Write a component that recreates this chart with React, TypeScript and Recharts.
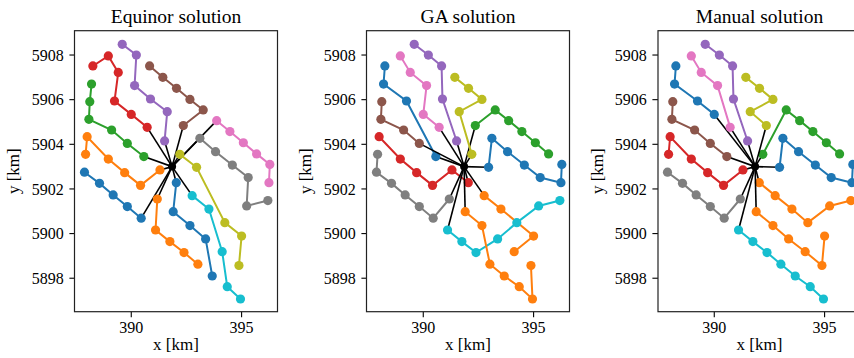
import React from 'react';
import { ScatterChart, Scatter, XAxis, YAxis } from 'recharts';

// ---- data ----
const turbineIds = [
  'b1','b2','b3','b4','b5',
  'o1','o2','o3','o4','o5','o6',
  'g1','g2','g3','g4','g5','g6',
  'r1','r2','r3','r4','r5','r6',
  'p1','p2','p3','p4','p5','p6',
  'n1','n2','n3','n4','n5','n6',
  'k1','k2','k3','k4','k5','k6',
  'y1','y2','y3','y4','y5','y6',
  'l1','l2','l3','l4','l5',
  'c1','c2','c3','c4','c5',
  'm1','m2','m3','m4','m5',
  'q1','q2','q3','q4','q5',
];
const turbineX = [
  387.88, 388.56, 389.18, 389.82, 390.45,
  387.93, 388.0, 388.96, 389.7, 390.42, 391.3,
  388.2, 388.12, 388.08, 389.11, 389.82, 390.57,
  388.26, 388.96, 389.41, 389.24, 390.0, 390.72,
  389.59, 390.23, 390.15, 390.87, 391.63, 391.51,
  390.83, 391.43, 392.05, 392.66, 393.26, 392.36,
  393.87, 394.47, 395.08, 395.68, 396.28, 396.24,
  393.11, 393.82, 394.58, 395.3, 395.23, 396.19,
  392.2, 392.96, 394.24, 395.0, 394.88,
  392.76, 393.52, 394.12, 394.35, 394.95,
  392.04, 391.9, 392.66, 393.37, 393.67,
  391.18, 391.1, 391.75, 392.39, 393.02,
];
const turbineY = [
  5902.75, 5902.25, 5901.73, 5901.21, 5900.69,
  5903.55, 5904.34, 5903.34, 5902.73, 5902.16, 5902.85,
  5906.7, 5905.91, 5905.12, 5904.64, 5904.04, 5903.45,
  5907.51, 5907.96, 5907.22, 5905.94, 5905.34, 5904.76,
  5908.48, 5908.0, 5906.63, 5906.03, 5905.46, 5904.15,
  5907.51, 5907.0, 5906.51, 5906.01, 5905.54, 5904.84,
  5905.06, 5904.57, 5904.07, 5903.57, 5903.1, 5902.28,
  5904.27, 5903.67, 5903.07, 5902.51, 5901.24, 5901.48,
  5903.55, 5902.97, 5900.49, 5899.89, 5898.57,
  5901.7, 5901.1, 5899.19, 5897.62, 5897.07,
  5902.28, 5900.98, 5900.36, 5899.76, 5898.1,
  5901.55, 5900.16, 5899.64, 5899.15, 5898.63,
];
const substationX = 391.85;
const substationY = 5903.0;

// strings listed from the substation outward
const equinorStrings = [
  ['b5','b4','b3','b2','b1'],
  ['o6','o5','o4','o3','o2','o1'],
  ['g6','g5','g4','g3','g2','g1'],
  ['r6','r5','r4','r3','r2','r1'],
  ['p6','p5','p4','p3','p2','p1'],
  ['n6','n5','n4','n3','n2','n1'],
  ['k1','k2','k3','k4','k5','k6'],
  ['y1','y2','y3','y4','y5','y6'],
  ['l1','l2','l3','l4','l5'],
  ['c1','c2','c3','c4','c5'],
  ['m1','m2','m3','m4','m5'],
  ['q1','q2','q3','q4','q5'],
];
const gaStrings = [
  ['g6','r4','g1','r1'],
  ['c1','c2','l4','c3'],
  ['n6','n5','k1','k2','k3','k4'],
  ['m1','o6','o5','o4','o3','o2'],
  ['p6','p4','n1','p2','p1'],
  ['g5','g4','g3','g2'],
  ['r6','r5','p3','r3','r2'],
  ['q1','b5','b4','b3','b2','b1','o1'],
  ['l1','p5','n4','n3','n2'],
  ['q2','q3','q4','m4','l3','y5','y6'],
  ['l2','y1','y2','y3','y4','k6','k5'],
  ['m2','m3','q5','m5','c4','c5','l5'],
];
const manualStrings = [
  ['r5','r4','g1','r1'],
  ['m1','c1','c2','l3','y5','y6'],
  ['l1','n5','k1','k2','k3','k4'],
  ['o6','o5','o4','o3','o2','o1'],
  ['p6','p4','n1','p2','p1'],
  ['g6','g5','g4','g3','g2'],
  ['r6','p3','r3','r2'],
  ['q1','b5','b4','b3','b2','b1'],
  ['n6','p5','n4','n3','n2'],
  ['q2','q3','q4','q5','m5','c4','c5'],
  ['l2','y1','y2','y3','y4','k6','k5'],
  ['m2','m3','m4','c3','l5','l4'],
];

const panelTitles = ['Equinor solution', 'GA solution', 'Manual solution'];
const xTicks = [390, 395];
const yTicks = [5898, 5900, 5902, 5904, 5906, 5908];
const xDomain = [387.45, 396.65];
const yDomain = [5896.5, 5909.09];

// ---- styles / layout ----
const COLORS = ['#1f77b4','#ff7f0e','#2ca02c','#d62728','#9467bd','#8c564b','#e377c2','#7f7f7f','#bcbd22','#17becf'];
const FONT = "'Liberation Serif', 'DejaVu Serif', serif";
const PLOT_W = 203;
const PLOT_H = 281;
const PLOT_TOP = 30.7;
const Y_AXIS_W = 70;
const PLOT_LEFTS = [74.5, 366.5, 658];
const H = 358;

const idIndex: Record<string, number> = {};
turbineIds.forEach((id, i) => { idIndex[id] = i; });
const pt = (id: string) => ({ x: turbineX[idIndex[id]], y: turbineY[idIndex[id]] });
const sub = { x: substationX, y: substationY };

function Panel({ strings, left }: { strings: string[][]; left: number }) {
  const children: React.ReactNode[] = [];
  strings.forEach((s, i) => {
    const color = COLORS[i % 10];
    children.push(
      <Scatter
        key={'k' + i}
        data={[sub, pt(s[0])]}
        line={{ stroke: '#000', strokeWidth: 1.6 }}
        shape={() => <g />}
        isAnimationActive={false}
      />
    );
    children.push(
      <Scatter
        key={'s' + i}
        data={s.map(pt)}
        line={{ stroke: color, strokeWidth: 2 }}
        shape={(p: any) => <circle cx={p.cx} cy={p.cy} r={4.6} fill={color} />}
        isAnimationActive={false}
      />
    );
  });
  children.push(
    <Scatter
      key="sub"
      data={[sub]}
      shape={(p: any) => <circle cx={p.cx} cy={p.cy} r={4} fill="#000" />}
      isAnimationActive={false}
    />
  );
  return (
    <div style={{ position: 'absolute', left: left - Y_AXIS_W, top: 0 }}>
      <ScatterChart
        width={Y_AXIS_W + PLOT_W + 2}
        height={H}
        margin={{ top: PLOT_TOP, right: 2, left: 0, bottom: 0 }}
      >
        <XAxis
          type="number"
          dataKey="x"
          domain={xDomain}
          allowDataOverflow
          ticks={xTicks}
          height={H - PLOT_TOP - PLOT_H}
          axisLine={false}
          tickLine={{ stroke: '#000', strokeWidth: 1.1 }}
          tickSize={5.6}
          tickMargin={4.5}
          tick={{ fontFamily: FONT, fontSize: 16, fill: '#000' }}
        />
        <YAxis
          type="number"
          dataKey="y"
          domain={yDomain}
          allowDataOverflow
          ticks={yTicks}
          width={Y_AXIS_W}
          axisLine={false}
          tickLine={{ stroke: '#000', strokeWidth: 1.1 }}
          tickSize={5.6}
          tickMargin={5.6}
          tick={{ fontFamily: FONT, fontSize: 16, fill: '#000' }}
        />
        {children}
      </ScatterChart>
    </div>
  );
}

export default function App() {
  const panels = [equinorStrings, gaStrings, manualStrings];
  return (
    <div style={{ position: 'absolute', left: 0, top: 0, width: 854, height: H, overflow: 'hidden', background: '#fff' }}>
      {panels.map((s, i) => (
        <Panel key={i} strings={s} left={PLOT_LEFTS[i]} />
      ))}
      <svg width={854} height={H} style={{ position: 'absolute', left: 0, top: 0, pointerEvents: 'none' }}>
        {PLOT_LEFTS.map((l, i) => (
          <g key={i}>
            <rect x={l} y={PLOT_TOP} width={PLOT_W} height={PLOT_H} fill="none" stroke="#222" strokeWidth={1.2} />
            <text x={l + PLOT_W / 2} y={23} textAnchor="middle" fontFamily={FONT} fontSize={19.5} fill="#000">
              {panelTitles[i]}
            </text>
            <text x={l + PLOT_W / 2} y={350} textAnchor="middle" fontFamily={FONT} fontSize={17} fill="#000">
              x [km]
            </text>
            <text
              x={l - 55}
              y={PLOT_TOP + PLOT_H / 2}
              textAnchor="middle"
              fontFamily={FONT}
              fontSize={17}
              fill="#000"
              transform={`rotate(-90 ${l - 55} ${PLOT_TOP + PLOT_H / 2})`}
            >
              y [km]
            </text>
          </g>
        ))}
      </svg>
    </div>
  );
}
